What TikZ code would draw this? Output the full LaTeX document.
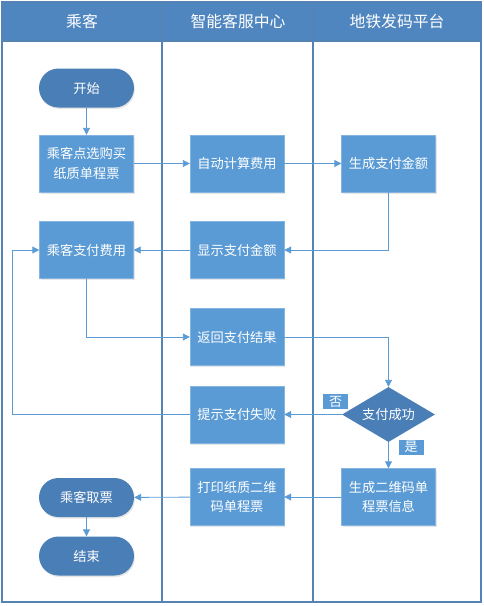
\documentclass[tikz,border=0pt]{standalone}
\usepackage{fontspec}
\newfontfamily\cjk{Noto Sans CJK SC}
\usetikzlibrary{arrows.meta,shapes.geometric,shadows}

\definecolor{laneblue}{HTML}{4F86BF}
\definecolor{boxblue}{HTML}{5B9BD5}
\definecolor{termblue}{HTML}{4A7EB7}
\definecolor{lineblue}{HTML}{5B9BD5}
\definecolor{framecol}{HTML}{5583B3}

\tikzset{
	proc/.style={rectangle, fill=boxblue, draw=boxblue!75!white, minimum width=94pt,
		minimum height=57pt, inner sep=2pt, text=white, align=center,
		font=\cjk\fontsize{13.2}{19.5}\selectfont,
		drop shadow={opacity=0.2, shadow xshift=1pt, shadow yshift=-1.5pt}},
	term/.style={rectangle, rounded corners=19.5pt, fill=termblue, minimum width=95pt,
		minimum height=39pt, text=white, font=\cjk\fontsize{13.2}{15}\selectfont,
		drop shadow={opacity=0.2, shadow xshift=1pt, shadow yshift=-1.5pt}},
	decide/.style={diamond, fill=termblue, inner sep=0pt, aspect=1.7, minimum width=93pt,
		minimum height=55pt, text=white, font=\cjk\fontsize{13.2}{15}\selectfont},
	tag/.style={rectangle, fill=boxblue, minimum width=25pt, minimum height=15pt,
		inner sep=0pt, text=white, font=\cjk\fontsize{13}{14}\selectfont},
	lanehead/.style={text=white, font=\cjk\fontsize{15.8}{18}\selectfont},
	flow/.style={draw=lineblue, line width=0.9pt, -{Triangle[length=7pt,width=7pt]}}
}

\begin{document}
\begin{tikzpicture}[x=1pt, y=-1pt]
	% параметры
	\def\L{2}     % левый край
	\def\R{481}   % правый край
	\def\T{2}     % верх
	\def\B{602}   % низ
	\def\Hh{41}   % низ шапки
	\def\Ca{86.5} % центры дорожек
	\def\Cb{237}
	\def\Cc{388.5}

	\useasboundingbox (0,0) rectangle (484,606);

	% шапка и дорожки
	\fill[laneblue] (\L,\T) rectangle (\R,\Hh);
	\draw[framecol, line width=1.6pt] (\L,\T) rectangle (\R,\B);
	\draw[framecol, line width=1.6pt] (\L,\Hh) -- (\R,\Hh);
	\draw[framecol, line width=1.6pt] (162,\T) -- (162,\B);
	\draw[framecol, line width=1.6pt] (313,\T) -- (313,\B);

	\node[lanehead] (headA) at (82,21.5) {乘客};
	\node[lanehead] (headB) at (238,21.5) {智能客服中心};
	\node[lanehead] (headC) at (397,21.5) {地铁发码平台};

	% узлы
	\node[term]   (start) at (\Ca,88)    {开始};
	\node[proc]   (pick)  at (\Ca,163.5) {乘客点选购买\\纸质单程票};
	\node[proc]   (calc)  at (\Cb,163.5) {自动计算费用};
	\node[proc]   (gen)   at (\Cc,163.5) {生成支付金额};
	\node[proc]   (pay)   at (\Ca,250)   {乘客支付费用};
	\node[proc]   (show)  at (\Cb,250)   {显示支付金额};
	\node[proc]   (ret)   at (\Cb,337)   {返回支付结果};
	\node[proc]   (fail)  at (\Cb,414.5) {提示支付失败};
	\node[decide] (ok)    at (\Cc,414.5) {支付成功};
	\node[proc]   (qr)    at (\Cc,497)   {生成二维码单\\程票信息};
	\node[proc]   (print) at (\Cb,497)   {打印纸质二维\\码单程票};
	\node[term]   (take)  at (\Ca,497.5) {乘客取票};
	\node[term]   (stop)  at (\Ca,556)   {结束};

	\coordinate (back) at (12,414.5);

	% связи
	\draw[flow] (start) -- (pick);
	\draw[flow] (pick) -- (calc);
	\draw[flow] (calc) -- (gen);
	\draw[flow] (gen.south) |- (show.east);
	\draw[flow] (show) -- (pay);
	\draw[flow] (pay.south) |- (ret.west);
	\draw[flow] (ret.east) -| (ok.north);
	\draw[flow] (ok.west) -- (fail.east);
	\draw[flow] (fail.west) -- (back) |- (pay.west);
	\draw[flow] (ok.south) -- (qr.north);
	\draw[flow] (qr) -- (print);
	\draw[flow] (print) -- (take);
	\draw[flow] (take) -- (stop);

	% подписи
	\node[tag] (no)  at (335.5,401.5) {否};
	\node[tag] (yes) at (411,447)     {是};
\end{tikzpicture}
\end{document}
